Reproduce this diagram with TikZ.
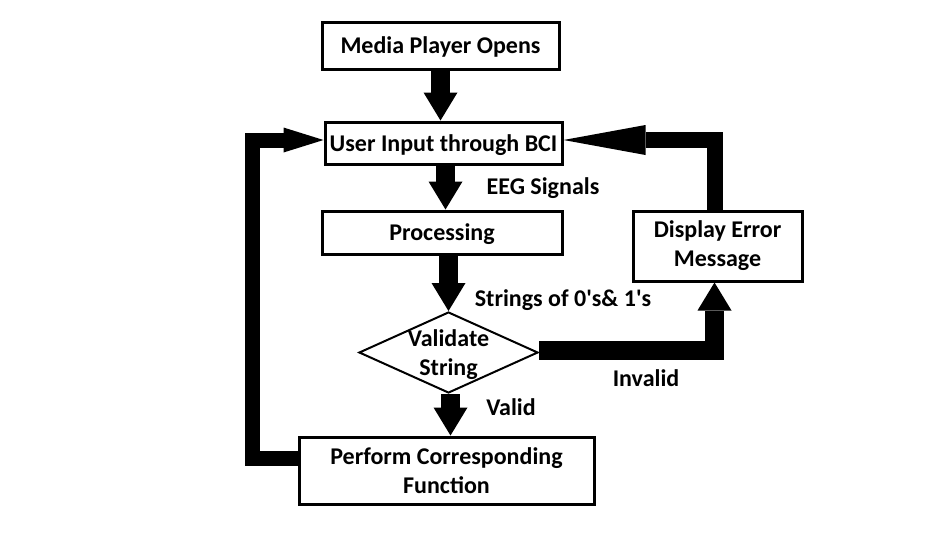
\documentclass[tikz,border=0pt]{standalone}
\usepackage{fontspec}
\setmainfont{Carlito}
\usetikzlibrary{arrows.meta,shapes.geometric}
\begin{document}
\begin{tikzpicture}[x=1pt,y=-1pt,
  font=\bfseries\fontsize{24}{29}\selectfont,
  box/.style={draw,line width=3pt,rectangle,inner sep=0pt,align=center},
  onebox/.style={box,text depth=0pt},
  decision/.style={draw,line width=2pt,diamond,inner sep=0pt,
    minimum width=179pt,minimum height=81pt},
  flow/.style={line width=19pt,-{Triangle[width=34pt,length=28pt,line width=0pt]}},
  leftback/.style={line width=15pt,-{Triangle[width=25pt,length=40pt,line width=0pt]}},
  rightback/.style={line width=16pt,-{Triangle[width=30pt,length=82pt,line width=0pt]}}]
  \useasboundingbox (0,0) rectangle (952,555);
  \node[onebox,minimum width=237pt,minimum height=47pt] (open) at (440.5,45.5) {Media Player Opens};
  \node[onebox,minimum width=237pt,minimum height=42pt] (user) at (443.5,143) {User Input through BCI};
  \node[onebox,minimum width=240pt,minimum height=43pt] (proc) at (442,232.5) {Processing};
  \node[box,minimum width=169pt,minimum height=70pt] (error) at (717.5,246) {Display Error\\Message};
  \node[decision,label={[align=center,yshift=-2pt]center:{Validate\\String}}] (valid) at (448.5,352.5) {};
  \node[box,minimum width=295pt,minimum height=67pt] (perform) at (446.5,470.5) {Perform Corresponding\\Function};
  % edge labels
  \node (eeg) at (543,188) {EEG Signals};
  \node (bits) at (563,300) {Strings of 0\textquotesingle s\& 1\textquotesingle s};
  \node (no) at (646,378) {Invalid};
  \node (yes) at (511,407) {Valid};
  \draw[flow] (open.south) -- (open.south |- user.north);
  \draw[flow] ([xshift=2pt]user.south) -- ([xshift=2pt]user.south |- proc.north);
  \draw[flow] (proc.south -| valid.north) -- (valid.north);
  \draw[flow] ([xshift=2pt]valid.south) -- ([xshift=2pt]valid.south |- perform.north);
  \draw[flow] ([yshift=2pt]valid.east) -| ([xshift=-3pt]error.south);
  \draw[rightback] ([xshift=-2.5pt]error.north) |- ([yshift=3pt]user.east);
  \draw[leftback] ([yshift=12pt]perform.west) -- ++(-45,0) |- ([yshift=3pt]user.west);
\end{tikzpicture}
\end{document}
